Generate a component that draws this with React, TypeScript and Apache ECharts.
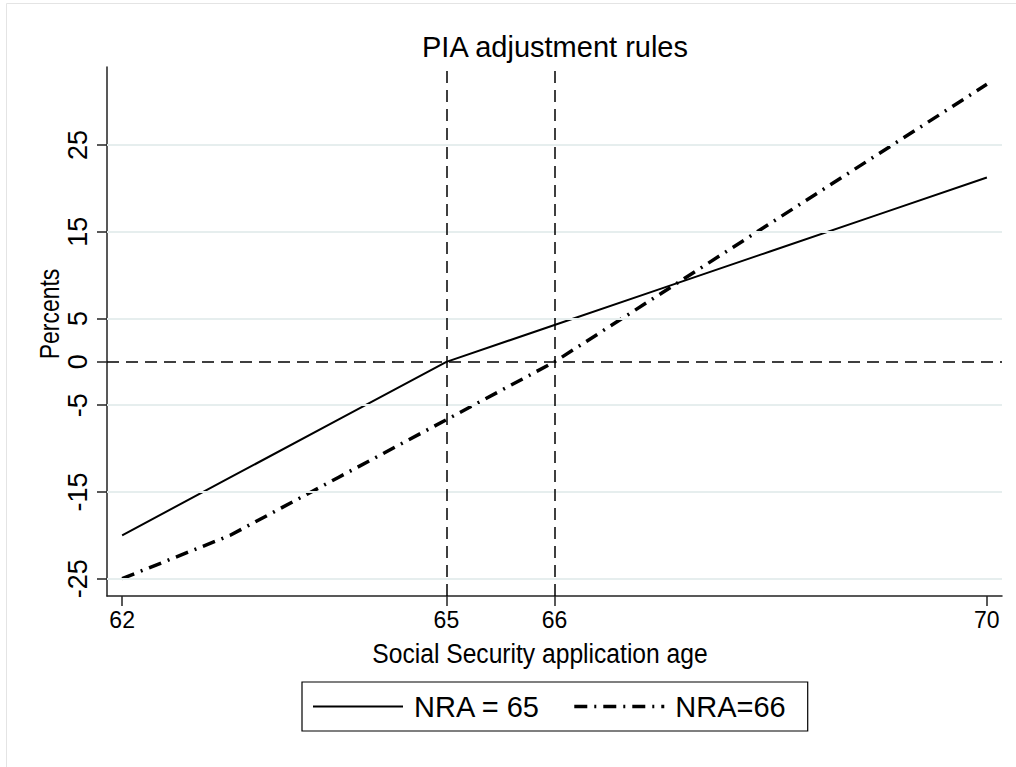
import React, { useEffect, useRef } from "react";
import * as echarts from "echarts";

// Application ages and PIA adjustment (percent) under each normal retirement age
const ages = [62, 63, 64, 65, 66, 67, 68, 69, 70];
const nra65 = [-20, -13.33, -6.67, 0, 4.25, 8.5, 12.75, 17, 21.25];
const nra66 = [-25, -20, -13.33, -6.67, 0, 8, 16, 24, 32];

// Axis tick labels
const xTicks = [62, 65, 66, 70];
const yTicks = [25, 15, 5, 0, -5, -15, -25];
const gridValues = [25, 15, 5, -5, -15, -25];

// Reference lines at the two normal retirement ages and at zero
const refAges = [65, 66];
const refLevel = 0;

const seriesNames = ["NRA = 65", "NRA=66"];

const FONT = "'Liberation Sans', Arial, Helvetica, sans-serif";

const solidStyle = { color: "#000", width: 2, type: "solid" as const };
const dashDotStyle = { color: "#000", width: 3.5, type: [13, 7, 2, 7] };

export default function App() {
  const ref = useRef<HTMLDivElement>(null);

  useEffect(() => {
    if (!ref.current) return;
    const chart = echarts.init(ref.current, null, { renderer: "svg" });

    const pairs = (ys: number[]) => ages.map((a, i) => [a, ys[i]]);

    chart.setOption({
      animation: false,
      backgroundColor: "#ffffff",
      grid: { left: 107, right: 14, top: 67, bottom: 171, containLabel: false },
      xAxis: {
        type: "value",
        min: 61.86,
        max: 70.14,
        axisLine: { show: true, onZero: false, lineStyle: { color: "#222", width: 1.5 } },
        axisTick: {
          show: true,
          length: 10,
          customValues: xTicks,
          lineStyle: { color: "#222", width: 1.5 },
        },
        axisLabel: {
          customValues: xTicks,
          margin: 12,
          color: "#000",
          fontFamily: FONT,
          fontSize: 23,
        },
        splitLine: { show: false },
      },
      yAxis: {
        type: "value",
        min: -27,
        max: 34,
        axisLine: { show: true, onZero: false, lineStyle: { color: "#222", width: 1.5 } },
        axisTick: {
          show: true,
          length: 10,
          customValues: yTicks,
          lineStyle: { color: "#222", width: 1.5 },
        },
        axisLabel: {
          customValues: yTicks,
          rotate: 90,
          margin: 16,
          color: "#000",
          fontFamily: FONT,
          fontSize: 27,
        },
        splitLine: { show: false },
      },
      legend: {
        data: [
          { name: seriesNames[0], lineStyle: solidStyle },
          { name: seriesNames[1], lineStyle: dashDotStyle },
        ],
        left: 302,
        top: 682,
        orient: "horizontal",
        borderColor: "#000",
        borderWidth: 1.2,
        borderRadius: 0,
        padding: [10, 22, 10, 10],
        itemWidth: 90,
        itemHeight: 14,
        itemGap: 32,
        itemStyle: { color: "rgba(0,0,0,0)", borderWidth: 0, opacity: 0 },
        textStyle: {
          color: "#000",
          fontFamily: FONT,
          fontSize: 29,
          padding: [0, 0, 0, 6],
        },
      },
      series: [
        {
          name: "grid",
          type: "line",
          data: [],
          z: 1,
          silent: true,
          markLine: {
            silent: true,
            symbol: ["none", "none"],
            label: { show: false },
            lineStyle: { color: "#e6eeee", width: 2, type: "solid" },
            data: gridValues.map((v) => ({ yAxis: v })),
          },
        },
        {
          name: "refs",
          type: "line",
          data: [],
          z: 2,
          silent: true,
          markLine: {
            silent: true,
            symbol: ["none", "none"],
            label: { show: false },
            lineStyle: { color: "#000", width: 1.5, type: [12, 7] },
            data: [
              ...refAges.map((a) => ({ xAxis: a })),
              { yAxis: refLevel },
            ],
          },
        },
        {
          name: seriesNames[0],
          type: "line",
          data: pairs(nra65),
          z: 3,
          showSymbol: false,
          symbol: "none",
          lineStyle: solidStyle,
          itemStyle: { color: "#000" },
        },
        {
          name: seriesNames[1],
          type: "line",
          data: pairs(nra66),
          z: 3,
          showSymbol: false,
          symbol: "none",
          lineStyle: dashDotStyle,
          itemStyle: { color: "#000" },
        },
      ],
      graphic: [
        {
          type: "rect",
          silent: true,
          z: -10,
          shape: { x: 6.5, y: 3.5, width: 1100, height: 900 },
          style: { fill: "none", stroke: "#e4e4e4", lineWidth: 1 },
        },
        {
          type: "text",
          x: 555,
          y: 47,
          style: {
            text: "PIA adjustment rules",
            align: "center",
            verticalAlign: "middle",
            fill: "#000",
            font: `29px ${FONT}`,
          },
        },
        {
          type: "text",
          x: 540,
          y: 653,
          scaleX: 0.88,
          style: {
            text: "Social Security application age",
            align: "center",
            verticalAlign: "middle",
            fill: "#000",
            font: `28px ${FONT}`,
          },
        },
        {
          type: "text",
          x: 49,
          y: 314,
          rotation: Math.PI / 2,
          scaleX: 0.82,
          style: {
            text: "Percents",
            align: "center",
            verticalAlign: "middle",
            fill: "#000",
            font: `28px ${FONT}`,
          },
        },
      ],
    });

    return () => chart.dispose();
  }, []);

  return (
    <div
      ref={ref}
      style={{ position: "absolute", left: 0, top: 0, width: 1016, height: 767 }}
    />
  );
}
